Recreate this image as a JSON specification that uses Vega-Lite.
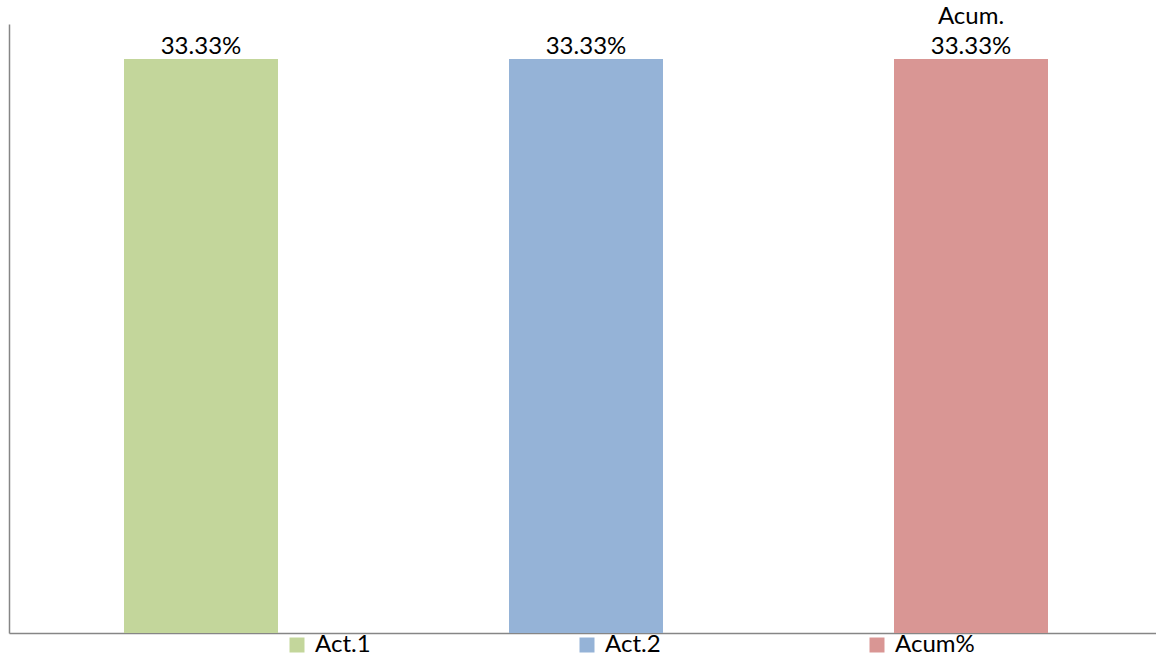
{
  "$schema": "https://vega.github.io/schema/vega-lite/v6.json",
  "width": 1147,
  "height": 609,
  "autosize": {"type": "none"},
  "padding": {"left": 9, "top": 24, "right": 0, "bottom": 26},
  "background": "white",
  "config": {"view": {"stroke": null}, "font": "Lato"},
  "data": {
    "values": [
      {"serie": "Act.1", "valor": 33.33, "etiqueta": "33.33%", "encabezado": ""},
      {"serie": "Act.2", "valor": 33.33, "etiqueta": "33.33%", "encabezado": ""},
      {"serie": "Acum%", "valor": 33.33, "etiqueta": "33.33%", "encabezado": "Acum."}
    ]
  },
  "encoding": {
    "x": {
      "field": "serie",
      "type": "nominal",
      "sort": null,
      "scale": {"paddingInner": 0.6, "paddingOuter": 0.2896, "align": 0.5157},
      "axis": {"title": null, "labels": false, "ticks": false, "grid": false, "domainColor": "#868686", "domainWidth": 1.5}
    },
    "y": {
      "field": "valor",
      "type": "quantitative",
      "scale": {"domain": [0, 35.36], "nice": false, "zero": true},
      "axis": {"title": null, "labels": false, "ticks": false, "grid": false, "domainColor": "#868686", "domainWidth": 1.5}
    }
  },
  "layer": [
    {
      "mark": {"type": "bar"},
      "encoding": {
        "color": {
          "field": "serie",
          "type": "nominal",
          "scale": {"domain": ["Act.1", "Act.2", "Acum%"], "range": ["#C3D69B", "#95B3D7", "#D99694"]},
          "legend": {
            "title": null,
            "orient": "none",
            "legendX": 276,
            "legendY": 609,
            "direction": "horizontal",
            "symbolType": "square",
            "symbolSize": 225,
            "symbolStrokeWidth": 0,
            "symbolOpacity": 1,
            "labelFontSize": 24,
            "labelFont": "Lato",
            "labelColor": "#000000",
            "labelOffset": 6,
            "columnPadding": 204,
            "padding": 0
          }
        }
      }
    },
    {
      "mark": {"type": "text", "baseline": "bottom", "dy": 0, "fontSize": 24, "font": "Lato", "color": "#000000"},
      "encoding": {"text": {"field": "etiqueta"}}
    },
    {
      "mark": {"type": "text", "baseline": "bottom", "dy": -30, "fontSize": 24, "font": "Lato", "color": "#000000"},
      "encoding": {"text": {"field": "encabezado"}}
    }
  ]
}
